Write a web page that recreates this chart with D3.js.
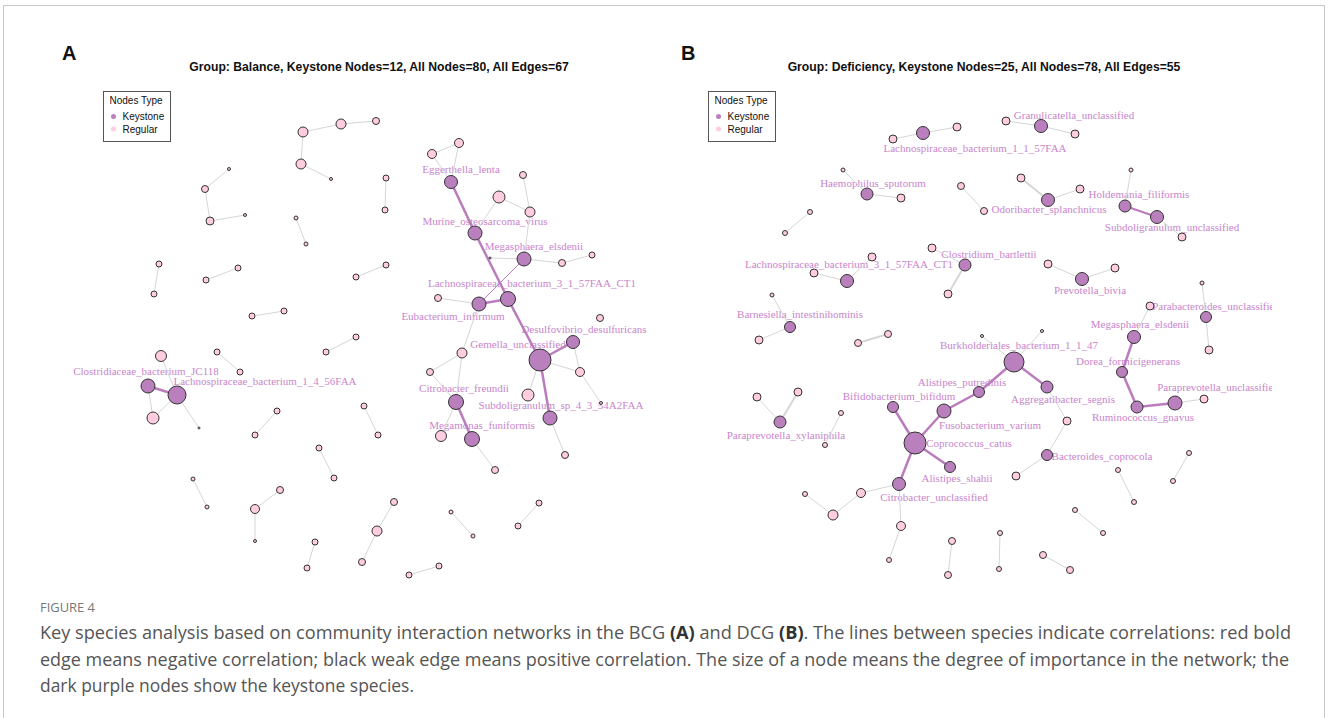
<!DOCTYPE html>
<html><head><meta charset="utf-8">
<script src="https://cdn.jsdelivr.net/npm/d3@7"></script>
<style>body{margin:0;background:#fff}svg{display:block}</style>
</head><body>
<svg id="fig" width="1328" height="718"></svg>
<script>
// ---------- Panel A: Balance group ----------
const titleA = "Group: Balance, Keystone Nodes=12, All Nodes=80, All Edges=67";
// keystone nodes: [name, importance, layoutX, layoutY, labelX, labelY]
const keystoneA = [
  ["Eggerthella_lenta", 6.5, 39.1, 10.2, 40.1, 8.9],
  ["Murine_osteosarcoma_virus", 7, 41.5, 15.3, 42.5, 14.1],
  ["Megasphaera_elsdenii", 7, 46.4, 17.9, 47.4, 16.6],
  ["Lachnospiraceae_bacterium_3_1_57FAA_CT1", 7.5, 44.8, 21.9, 47.2, 20.3],
  ["Eubacterium_infirmum", 7, 41.9, 22.4, 39.3, 23.6],
  ["Desulfovibrio_desulfuricans", 6.5, 51.3, 26.2, 52.4, 24.9],
  ["Gemella_unclassified", 11, 48.0, 28.0, 45.8, 26.4],
  ["Citrobacter_freundii", 7.5, 39.6, 32.2, 40.4, 30.8],
  ["Subdoligranulum_sp_4_3_54A2FAA", 7, 49.0, 33.8, 50.1, 32.5],
  ["Megamonas_funiformis", 7.5, 41.2, 35.9, 42.2, 34.5],
  ["Clostridiaceae_bacterium_JC118", 7, 8.8, 30.6, 8.6, 29.1],
  ["Lachnospiraceae_bacterium_1_4_56FAA", 9, 11.7, 31.5, 20.5, 30.1]
];
// regular nodes: [id, importance, layoutX, layoutY]
const regularA = [
  ["a1",5,24.3,5.2],["a2",5,28.1,4.4],["a3",3.5,31.6,4.1],["a4",5,24.1,8.4],["a5",1.5,27.1,9.9],
  ["a6",1.5,16.9,8.9],["a7",3.5,14.5,10.9],["a8",4,15.0,14.1],["a9",1.5,18.5,13.5],
  ["a10",3,32.6,9.8],["a11",3,32.5,13.0],["a12",2,23.6,13.8],["a13",2,24.6,16.4],
  ["a14",3,9.9,18.4],["a15",3,9.4,21.4],["a16",3,17.8,18.8],["a17",3,14.6,20.0],
  ["a18",3,32.6,18.5],["a19",3,29.6,19.7],["a20",3,22.4,23.1],["a21",3,19.2,23.6],
  ["a22",4.5,39.9,6.3],["a23",4.5,37.2,7.4],["a24",3.5,46.3,9.5],["a25",6,43.9,11.7],["a26",5,47.0,13.2],
  ["a27",3.5,50.2,18.3],["a28",3,53.2,17.5],["a29",1,43.0,17.8],["a30",3.5,37.8,21.8],["a31",3.5,54.0,23.8],
  ["a32",4.5,52.0,29.2],["a33",5,40.2,27.3],["a34",3.5,37.0,29.2],["a35",6,46.8,31.5],["a36",1.5,54.1,32.3],
  ["a37",5.5,38.1,35.6],["a38",3.5,43.5,39.0],["a39",3.5,50.5,37.5],
  ["a40",5.5,10.1,27.6],["a41",6,9.3,33.8],["a42",1,13.9,34.8],
  ["a43",3,15.7,27.2],["a44",3,18.0,29.2],["a45",3,29.6,25.7],["a46",3,26.6,27.2],
  ["a47",3,21.7,33.1],["a48",3,19.5,35.5],["a49",3,30.4,32.6],["a50",3,31.8,35.5],
  ["a51",3,25.9,36.8],["a52",3,27.4,39.8],["a53",2,13.3,39.9],["a54",2,14.7,42.7],
  ["a55",3.5,22.0,41.0],["a56",4.5,19.5,42.9],["a57",1.5,19.5,46.1],
  ["a58",3.5,33.4,42.2],["a59",5,31.7,45.1],["a60",3.5,30.2,48.2],
  ["a61",3,25.5,46.2],["a62",3,24.7,48.8],["a63",2,39.1,43.2],["a64",2,41.3,45.6],
  ["a65",3,47.9,42.3],["a66",3,45.8,44.6],["a67",3,37.9,48.6],["a68",3,34.9,49.5]
];
// edges: [source, target, sign, weight]
const edgesA = [
  ["a1","a2","+",1],["a2","a3","+",1],["a1","a4","+",1],["a4","a5","+",1],
  ["a6","a7","+",1],["a7","a8","+",1],["a8","a9","+",1],
  ["a10","a11","+",1],["a12","a13","+",1],["a14","a15","+",1],["a16","a17","+",1],["a18","a19","+",1],["a20","a21","+",1],
  ["a23","a22","+",1],["a22","Eggerthella_lenta","+",1],["a23","Eggerthella_lenta","+",1],
  ["Eggerthella_lenta","Murine_osteosarcoma_virus","-",2.5],
  ["a24","a26","+",1],["a25","a26","+",1],["a25","Murine_osteosarcoma_virus","+",1],
  ["a26","Megasphaera_elsdenii","+",1],["Megasphaera_elsdenii","a27","+",1],["a27","a28","+",1],["a29","Megasphaera_elsdenii","+",1],
  ["Murine_osteosarcoma_virus","Lachnospiraceae_bacterium_3_1_57FAA_CT1","-",2.5],
  ["Megasphaera_elsdenii","Eubacterium_infirmum","-",1],
  ["Eubacterium_infirmum","Lachnospiraceae_bacterium_3_1_57FAA_CT1","-",2.5],
  ["a30","Eubacterium_infirmum","+",1],
  ["Lachnospiraceae_bacterium_3_1_57FAA_CT1","Gemella_unclassified","-",2.5],
  ["Gemella_unclassified","Desulfovibrio_desulfuricans","-",2.5],
  ["Gemella_unclassified","Subdoligranulum_sp_4_3_54A2FAA","-",2.5],
  ["Desulfovibrio_desulfuricans","a32","+",1],["Gemella_unclassified","a32","+",1],["a32","a36","+",1],
  ["Gemella_unclassified","a35","+",1],["Subdoligranulum_sp_4_3_54A2FAA","a39","+",1],
  ["Eubacterium_infirmum","a33","+",1],["a33","a34","+",1],["a33","Citrobacter_freundii","+",1],["a34","Citrobacter_freundii","+",1],
  ["Citrobacter_freundii","Megamonas_funiformis","-",2.5],["Citrobacter_freundii","a37","+",1],["Megamonas_funiformis","a38","+",1],
  ["a40","Lachnospiraceae_bacterium_1_4_56FAA","+",1],
  ["Clostridiaceae_bacterium_JC118","Lachnospiraceae_bacterium_1_4_56FAA","-",2.5],
  ["Clostridiaceae_bacterium_JC118","a41","+",1],["Lachnospiraceae_bacterium_1_4_56FAA","a41","+",1],
  ["Lachnospiraceae_bacterium_1_4_56FAA","a42","+",1],
  ["a43","a44","+",1],["a45","a46","+",1],["a47","a48","+",1],["a49","a50","+",1],["a51","a52","+",1],
  ["a53","a54","+",1],["a55","a56","+",1],["a56","a57","+",1],["a58","a59","+",1],["a59","a60","+",1],
  ["a61","a62","+",1],["a63","a64","+",1],["a65","a66","+",1],["a67","a68","+",1]
];

// ---------- Panel B: Deficiency group ----------
const titleB = "Group: Deficiency, Keystone Nodes=25, All Nodes=78, All Edges=55";
const keystoneB = [
  ["Lachnospiraceae_bacterium_1_1_57FAA", 6.5, 25.8, 5.3, 31.0, 6.8],
  ["Granulicatella_unclassified", 6.5, 37.6, 4.6, 40.9, 3.5],
  ["Haemophilus_sputorum", 6, 20.2, 11.4, 20.8, 10.3],
  ["Odoribacter_splanchnicus", 6.5, 38.3, 12.0, 38.4, 12.9],
  ["Holdemania_filiformis", 6, 46.0, 12.6, 47.4, 11.4],
  ["Subdoligranulum_unclassified", 6.5, 49.2, 13.7, 50.7, 14.7],
  ["Prevotella_bivia", 6.5, 41.7, 19.9, 42.5, 21.0],
  ["Parabacteroides_unclassified", 5.5, 54.1, 23.7, 55.1, 22.6],
  ["Megasphaera_elsdenii", 6.5, 46.9, 25.7, 47.5, 24.4],
  ["Dorea_formicigenerans", 5.5, 45.7, 29.2, 46.3, 28.1],
  ["Ruminococcus_gnavus", 6, 47.2, 32.7, 47.8, 33.7],
  ["Paraprevotella_unclassified", 7, 51.0, 32.3, 55.3, 30.7],
  ["Burkholderiales_bacterium_1_1_47", 10, 34.9, 28.2, 35.4, 26.5],
  ["Aggregatibacter_segnis", 6, 38.2, 30.7, 39.8, 31.9],
  ["Bacteroides_coprocola", 5.5, 38.2, 37.5, 43.7, 37.6],
  ["Barnesiella_intestinihominis", 5.5, 12.5, 24.7, 13.5, 23.4],
  ["Lachnospiraceae_bacterium_3_1_57FAA_CT1", 6.5, 18.2, 20.1, 18.4, 18.4],
  ["Clostridium_bartlettii", 6, 30.0, 18.5, 32.4, 17.4],
  ["Paraprevotella_xylaniphila", 6, 11.5, 34.2, 12.1, 35.5],
  ["Alistipes_putredinis", 5.5, 31.4, 31.2, 29.7, 30.2],
  ["Fusobacterium_varium", 7, 27.9, 33.1, 32.5, 34.5],
  ["Bifidobacterium_bifidum", 5.5, 22.8, 32.7, 23.4, 31.6],
  ["Coprococcus_catus", 11, 25.0, 36.3, 30.4, 36.3],
  ["Alistipes_shahii", 5.5, 28.5, 38.7, 29.2, 39.8],
  ["Citrobacter_unclassified", 6.5, 23.4, 40.4, 26.9, 41.7]
];
const regularB = [
  ["b1",4,22.8,5.9],["b2",4,29.2,4.7],["b3",4,34.1,4.1],["b4",4,41.0,5.4],
  ["b5",2,17.8,9.0],["b6",4,23.6,11.8],["b7",2.5,14.5,13.2],["b8",2.5,12.0,15.3],
  ["b9",3.5,29.6,10.6],["b10",3.5,31.9,13.1],["b11",4,35.6,9.8],["b12",4,41.5,10.9],
  ["b13",2,46.6,9.0],["b14",4,51.7,15.7],["b15",4,38.3,18.4],["b16",4,45.0,18.8],
  ["b17",2,53.7,20.3],["b18",4,48.5,22.6],["b19",4,54.4,27.0],["b20",4,53.9,31.9],
  ["b21",1.5,37.7,25.1],["b22",1.5,31.7,25.6],["b23",4,40.2,34.1],["b24",4,35.1,39.6],
  ["b25",2.5,52.4,37.3],["b26",2.5,50.8,40.1],["b27",2.5,45.3,39.0],["b28",2.5,46.9,42.2],
  ["b29",2.5,41.0,43.0],["b30",2.5,43.8,45.3],["b31",3.5,37.8,47.5],["b32",3.5,40.5,49.0],
  ["b33",2.5,33.5,45.3],["b34",2.5,33.4,48.9],["b35",2,10.7,21.5],["b36",4,9.4,26.0],
  ["b37",3.5,19.3,26.3],["b38",3.5,22.3,25.4],["b39",4,14.9,19.3],["b40",4,20.7,17.7],
  ["b41",4,26.7,16.8],["b42",4,28.3,21.4],["b43",4,9.2,31.7],["b44",4,13.3,31.2],
  ["b45",2.5,17.6,33.3],["b46",2.5,16.0,36.5],["b47",4.5,19.6,41.3],["b48",2.5,14.0,41.4],
  ["b49",5,16.8,43.5],["b50",4.5,23.6,44.6],["b51",2.5,22.4,48.0],["b52",3.5,28.7,46.1],
  ["b53",3.5,28.3,49.5]
];
const edgesB = [
  ["b1","Lachnospiraceae_bacterium_1_1_57FAA","+",1],["Lachnospiraceae_bacterium_1_1_57FAA","b2","+",1],
  ["b3","Granulicatella_unclassified","+",1],["Granulicatella_unclassified","b4","+",1],
  ["b5","Haemophilus_sputorum","+",1],["Haemophilus_sputorum","b6","+",1],
  ["b7","b8","+",1],["b9","b10","+",1],
  ["b11","Odoribacter_splanchnicus","+",2],["Odoribacter_splanchnicus","b12","+",1],
  ["b13","Holdemania_filiformis","+",1],["Holdemania_filiformis","Subdoligranulum_unclassified","-",2],
  ["Subdoligranulum_unclassified","b14","+",1],
  ["b15","Prevotella_bivia","+",1],["Prevotella_bivia","b16","+",1],
  ["b17","Parabacteroides_unclassified","+",1],["Parabacteroides_unclassified","b19","+",1],
  ["b18","Megasphaera_elsdenii","+",1],
  ["Megasphaera_elsdenii","Dorea_formicigenerans","-",2.5],
  ["Dorea_formicigenerans","Ruminococcus_gnavus","-",2.5],
  ["Ruminococcus_gnavus","Paraprevotella_unclassified","-",2.5],
  ["Paraprevotella_unclassified","b20","+",1],
  ["b21","Burkholderiales_bacterium_1_1_47","+",1],["b22","Burkholderiales_bacterium_1_1_47","+",1],
  ["Burkholderiales_bacterium_1_1_47","Aggregatibacter_segnis","-",2.5],
  ["Burkholderiales_bacterium_1_1_47","Alistipes_putredinis","-",2.5],
  ["Alistipes_putredinis","Fusobacterium_varium","-",2.5],
  ["Fusobacterium_varium","Coprococcus_catus","-",2.5],
  ["Coprococcus_catus","Bifidobacterium_bifidum","-",2.5],
  ["Coprococcus_catus","Alistipes_shahii","-",2.5],
  ["Coprococcus_catus","Citrobacter_unclassified","-",2.5],
  ["Aggregatibacter_segnis","b23","+",1],["b23","Bacteroides_coprocola","+",1],["Bacteroides_coprocola","b24","+",1],
  ["b25","b26","+",1],["b27","b28","+",1],["b29","b30","+",1],["b31","b32","+",1],["b33","b34","+",1],
  ["b35","Barnesiella_intestinihominis","+",1],["Barnesiella_intestinihominis","b36","+",1],
  ["b37","b38","+",2],
  ["b39","Lachnospiraceae_bacterium_3_1_57FAA_CT1","+",1],["Lachnospiraceae_bacterium_3_1_57FAA_CT1","b40","+",1],
  ["b41","Clostridium_bartlettii","+",1],["Clostridium_bartlettii","b42","+",2],
  ["b43","Paraprevotella_xylaniphila","+",1],["b44","Paraprevotella_xylaniphila","+",2],
  ["b45","b46","+",1],
  ["Citrobacter_unclassified","b47","+",1],["b47","b49","+",1],["b49","b48","+",1],
  ["Citrobacter_unclassified","b50","+",1],["b50","b51","+",1],["b52","b53","+",1]
];

const legendTitle = "Nodes Type";
const legendItems = ["Keystone", "Regular"];
const figureLabel = "FIGURE 4";
// caption lines as [text, bold] runs
const captionLines = [
  [["Key species analysis based on community interaction networks in the BCG ", false], ["(A)", true],
   [" and DCG ", false], ["(B)", true],
   [". The lines between species indicate correlations: red bold", false]],
  [["edge means negative correlation; black weak edge means positive correlation. The size of a node means the degree of importance in the network; the", false]],
  [["dark purple nodes show the keystone species.", false]]
];

// ---------- styling ----------
const KEY_FILL = "#BA80BD", REG_FILL = "#FFCCE0", NODE_STROKE = "#333";
const POS_EDGE = "#d6d6d6", NEG_EDGE = "#BA7CBD", LABEL_COL = "#C985CC";

const svg = d3.select("#fig");

// outer frame of the figure
svg.append("rect").attr("x", 3.5).attr("y", 5.5).attr("width", 1321).attr("height", 740)
  .attr("fill", "none").attr("stroke", "#c8c8c8").attr("stroke-width", 1);

const yScale = d3.scaleLinear().domain([0, 51]).range([80, 590]);
const rScale = d3.scaleLinear().domain([0, 11]).range([0, 11]);

const defs = svg.append("defs");

function drawPanel(opt) {
  const x = d3.scaleLinear().domain([0, 60]).range([opt.x0, opt.x0 + 600]);
  const y = yScale;
  const nodes = new Map();
  opt.keystone.forEach(d => nodes.set(d[0], {id: d[0], imp: d[1], x: d[2], y: d[3], key: true}));
  opt.regular.forEach(d => nodes.set(d[0], {id: d[0], imp: d[1], x: d[2], y: d[3], key: false}));

  const clipId = "clip" + opt.letter;
  defs.append("clipPath").attr("id", clipId).append("rect")
    .attr("x", opt.x0).attr("y", 75).attr("width", opt.clipW).attr("height", 520);

  // panel letter and title
  svg.append("text").attr("x", opt.letterX).attr("y", 60).text(opt.letter)
    .attr("font-family", "Liberation Sans, Arial, sans-serif").attr("font-weight", "bold")
    .attr("font-size", 20).attr("fill", "#111");
  svg.append("text").attr("x", opt.x0 + 319).attr("y", 71).attr("text-anchor", "middle").text(opt.title)
    .attr("font-family", "Liberation Sans, Arial, sans-serif").attr("font-weight", "bold")
    .attr("font-size", 12.2).attr("fill", "#111");

  const g = svg.append("g").attr("clip-path", `url(#${clipId})`);

  // keystone labels (drawn under edges and nodes)
  g.append("g").selectAll("text").data(opt.keystone).join("text")
    .attr("x", d => x(d[4])).attr("y", d => y(d[5])).attr("dy", "0.35em")
    .attr("text-anchor", "middle").text(d => d[0])
    .attr("font-family", "Liberation Serif, Times New Roman, serif").attr("font-size", 11)
    .attr("fill", LABEL_COL);

  // edges
  g.append("g").selectAll("line").data(opt.edges).join("line")
    .attr("x1", d => x(nodes.get(d[0]).x)).attr("y1", d => y(nodes.get(d[0]).y))
    .attr("x2", d => x(nodes.get(d[1]).x)).attr("y2", d => y(nodes.get(d[1]).y))
    .attr("stroke", d => d[2] === "-" ? NEG_EDGE : POS_EDGE)
    .attr("stroke-width", d => d[3]);

  // nodes
  g.append("g").selectAll("circle").data([...nodes.values()]).join("circle")
    .attr("cx", d => x(d.x)).attr("cy", d => y(d.y)).attr("r", d => rScale(d.imp))
    .attr("fill", d => d.key ? KEY_FILL : REG_FILL)
    .attr("stroke", NODE_STROKE).attr("stroke-width", 1);

  // legend
  const lg = svg.append("g").attr("transform", `translate(${opt.x0 + 43.5},${91.5})`);
  lg.append("rect").attr("width", 67).attr("height", 50).attr("fill", "#fff")
    .attr("stroke", "#555").attr("stroke-width", 1);
  lg.append("text").attr("x", 6).attr("y", 12.5).text(legendTitle)
    .attr("font-family", "Liberation Sans, Arial, sans-serif").attr("font-size", 10).attr("fill", "#111");
  legendItems.forEach((t, i) => {
    lg.append("circle").attr("cx", 10).attr("cy", 25 + i * 12.5).attr("r", 2.5)
      .attr("fill", i === 0 ? KEY_FILL : REG_FILL);
    lg.append("text").attr("x", 19).attr("y", 28.5 + i * 12.5).text(t)
      .attr("font-family", "Liberation Sans, Arial, sans-serif").attr("font-size", 10).attr("fill", "#111");
  });
}

drawPanel({letter: "A", letterX: 62, x0: 60, clipW: 605, title: titleA,
  keystone: keystoneA, regular: regularA, edges: edgesA});
drawPanel({letter: "B", letterX: 681, x0: 665, clipW: 607, title: titleB,
  keystone: keystoneB, regular: regularB, edges: edgesB});

// caption
svg.append("text").attr("x", 40).attr("y", 612).text(figureLabel)
  .attr("font-family", "Open Sans, Noto Sans, sans-serif").attr("font-size", 12)
  .attr("textLength", 55).attr("lengthAdjust", "spacingAndGlyphs").attr("fill", "#777");
const capWidths = [1251, 1249, 374];
captionLines.forEach((runs, i) => {
  const t = svg.append("text").attr("x", 40).attr("y", 639 + i * 26.5)
    .attr("font-family", "Open Sans, Noto Sans, sans-serif").attr("font-size", 18)
    .attr("textLength", capWidths[i]).attr("lengthAdjust", "spacingAndGlyphs")
    .attr("fill", "#555");
  runs.forEach(r => t.append("tspan").text(r[0]).attr("font-weight", r[1] ? "bold" : null)
    .attr("fill", r[1] ? "#333" : null));
});
</script></body></html>
